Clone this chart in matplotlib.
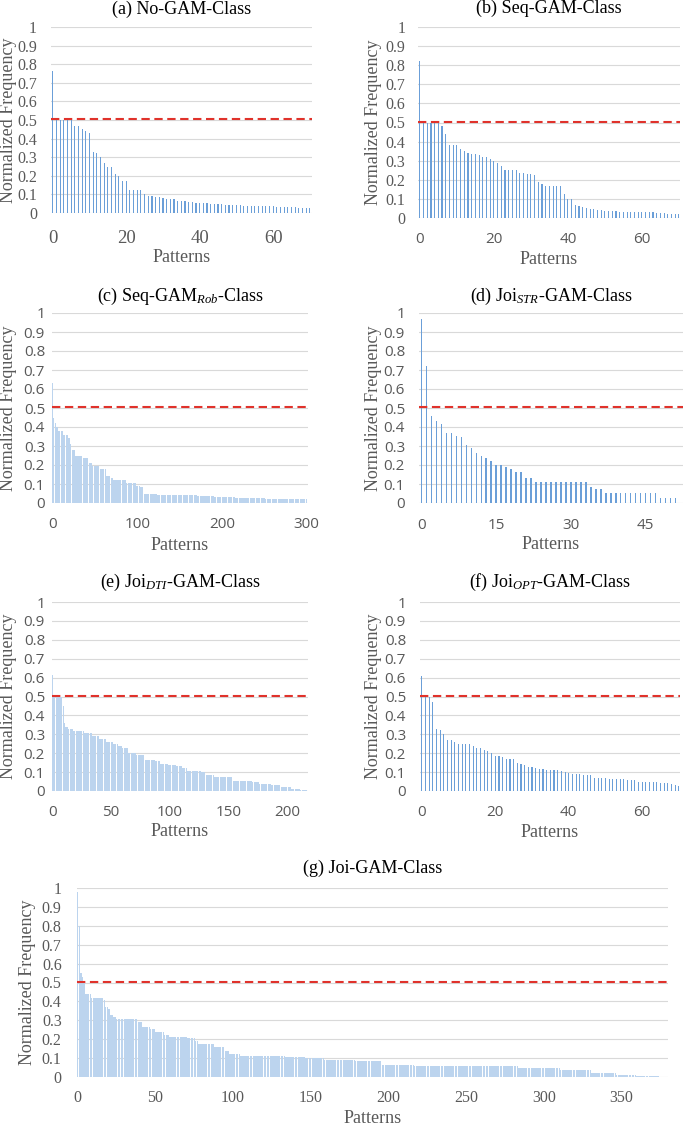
import numpy as np
import matplotlib.pyplot as plt

plt.rcParams['mathtext.fontset'] = 'custom'
plt.rcParams['mathtext.rm'] = 'Liberation Serif'
plt.rcParams['mathtext.it'] = 'Liberation Serif:italic'

# normalized frequency of each pattern
no_gam = [0.765, 0.50, 0.50, 0.50, 0.51, 0.50, 0.47, 0.47, 0.45, 0.44, 0.43,
          0.33, 0.32, 0.30, 0.27, 0.25, 0.25, 0.21, 0.20, 0.17, 0.17,
          0.125, 0.125, 0.125, 0.125, 0.10, 0.09, 0.09, 0.085, 0.085, 0.08,
          0.075, 0.075, 0.075, 0.065, 0.065, 0.065, 0.06, 0.06,
          0.055, 0.055, 0.055, 0.055, 0.05, 0.05, 0.05, 0.05,
          0.045, 0.045, 0.045, 0.045, 0.045, 0.04, 0.04, 0.04, 0.04, 0.04,
          0.035, 0.035, 0.035, 0.035, 0.03, 0.03, 0.03, 0.03, 0.03, 0.03,
          0.025, 0.025, 0.025, 0.025]
seq_gam = [0.82, 0.50, 0.50, 0.50, 0.50, 0.50, 0.48, 0.44, 0.38, 0.38, 0.38,
           0.36, 0.35, 0.34, 0.335, 0.335, 0.33, 0.32, 0.32, 0.31, 0.30,
           0.29, 0.27, 0.25, 0.25, 0.25, 0.25, 0.235, 0.235, 0.23, 0.23,
           0.225, 0.19, 0.18, 0.17, 0.165, 0.165, 0.165, 0.165, 0.125,
           0.10, 0.10, 0.07, 0.065, 0.055, 0.05, 0.045, 0.045, 0.04, 0.04,
           0.035, 0.035, 0.035, 0.035, 0.03, 0.03, 0.03, 0.03, 0.03, 0.03,
           0.03, 0.03, 0.03, 0.03, 0.025, 0.025, 0.025, 0.02, 0.02, 0.02, 0.02]
joi_str = [0.97, 0.72, 0.46, 0.43, 0.415, 0.37, 0.37, 0.355, 0.345, 0.305,
           0.29, 0.265, 0.245, 0.235, 0.22, 0.20, 0.20, 0.19, 0.18, 0.165,
           0.165, 0.13, 0.13, 0.11, 0.11, 0.11, 0.11, 0.11, 0.11, 0.11,
           0.11, 0.11, 0.11, 0.11, 0.085, 0.075, 0.075, 0.055, 0.055, 0.055,
           0.055, 0.055, 0.055, 0.055, 0.055, 0.055, 0.055, 0.055,
           0.025, 0.025, 0.025, 0.025]
joi_opt = [0.61, 0.50, 0.50, 0.47, 0.33, 0.325, 0.30, 0.27, 0.27, 0.26,
           0.25, 0.25, 0.25, 0.25, 0.24, 0.23, 0.23, 0.215, 0.21, 0.20,
           0.185, 0.185, 0.18, 0.17, 0.17, 0.17, 0.15, 0.145, 0.135, 0.125,
           0.125, 0.12, 0.115, 0.115, 0.11, 0.11, 0.11, 0.11, 0.105, 0.10,
           0.095, 0.09, 0.09, 0.09, 0.085, 0.085, 0.085, 0.07, 0.07, 0.07,
           0.07, 0.065, 0.065, 0.065, 0.065, 0.065, 0.06, 0.06, 0.06,
           0.05, 0.05, 0.05, 0.045, 0.045, 0.045, 0.04, 0.04, 0.04,
           0.035, 0.03, 0.025]

# long panels: plateau heights and how many patterns sit on each plateau
seq_rob_levels = [0.63, 0.45, 0.42, 0.40, 0.38, 0.36, 0.34, 0.31, 0.28, 0.25,
                  0.235, 0.21, 0.195, 0.18, 0.14, 0.13, 0.12, 0.105, 0.09,
                  0.085, 0.05, 0.04, 0.035, 0.03, 0.025, 0.02]
seq_rob_counts = [1, 2, 2, 2, 6, 6, 2, 3, 3, 8, 8, 4, 10, 7, 4, 4, 15, 12, 5,
                  3, 17, 47, 20, 25, 35, 50]
joi_dti_levels = [0.613, 0.50, 0.45, 0.36, 0.34, 0.33, 0.32, 0.305, 0.29,
                  0.275, 0.26, 0.25, 0.24, 0.225, 0.20, 0.19, 0.165, 0.16,
                  0.145, 0.14, 0.13, 0.12, 0.108, 0.10, 0.083, 0.072, 0.055,
                  0.045, 0.035, 0.03, 0.02, 0.012, 0.005]
joi_dti_counts = [1, 8, 1, 1, 3, 4, 9, 7, 6, 6, 6, 4, 4, 5, 7, 7, 9, 4, 7, 7,
                  5, 4, 12, 4, 7, 16, 17, 6, 10, 8, 9, 8, 6]
joi_levels = [0.98, 0.80, 0.55, 0.53, 0.50, 0.44, 0.42, 0.405, 0.37, 0.36,
              0.33, 0.32, 0.305, 0.29, 0.265, 0.255, 0.24, 0.22, 0.21, 0.205,
              0.19, 0.175, 0.16, 0.14, 0.12, 0.11, 0.105, 0.10, 0.09, 0.085,
              0.065, 0.056, 0.045, 0.035, 0.02, 0.012, 0.006, 0.002]
joi_counts = [1, 1, 1, 1, 1, 4, 8, 1, 2, 1, 2, 2, 14, 3, 5, 3, 6, 3, 12, 5,
              2, 10, 7, 3, 7, 29, 13, 12, 20, 17, 21, 67, 27, 20, 16, 13, 15, 11]

threshold = 0.505
y_ticks = [0, 0.1, 0.2, 0.3, 0.4, 0.5, 0.6, 0.7, 0.8, 0.9, 1]
y_tick_labels = ['0', '0.1', '0.2', '0.3', '0.4', '0.5', '0.6', '0.7', '0.8',
                 '0.9', '1']

SERIF = 'Liberation Serif'
SANS = 'Open Sans'
GREY = '#595959'
W, H = 685, 1126

fig = plt.figure(figsize=(W / 100, H / 100), dpi=100)


def panel(box, values, title, xticks, xlim, dense, yfont, xfont,
          ylab_px, xpad, ypad, tpad, xlab_gap):
    # box is (left, top, right, bottom) in pixels
    l, t, r, b = box
    ax = fig.add_axes([l / W, 1 - b / H, (r - l) / W, (b - t) / H])
    x = np.arange(len(values))
    if dense:
        ax.bar(x, values, width=0.85, color='#bcd4ee', linewidth=0)
    else:
        ax.bar(x, values, width=0.3, color='#6b9fd8', linewidth=0)
    ax.axhline(threshold, color='#e0322b', lw=1.5, ls=(0, (4, 2.2)))
    ax.set_xlim(*xlim)
    ax.set_ylim(0, 1)
    ax.set_yticks(y_ticks)
    ax.set_yticklabels(y_tick_labels)
    ax.set_xticks(xticks)
    ax.set_axisbelow(True)
    ax.grid(axis='y', color='#d9d9d9', lw=0.8)
    for s in ax.spines.values():
        s.set_visible(False)
    ax.tick_params(length=0)
    ax.tick_params(axis='y', pad=ypad, labelcolor=GREY)
    ax.tick_params(axis='x', pad=xpad, labelcolor=GREY)
    for lab in ax.get_yticklabels():
        lab.set_fontfamily(yfont[0])
        lab.set_fontsize(yfont[1])
    for lab in ax.get_xticklabels():
        lab.set_fontfamily(xfont[0])
        lab.set_fontsize(xfont[1])
    ax.set_title(title, fontfamily=SERIF, fontsize=13, pad=tpad)
    ax.set_ylabel('Normalized Frequency', fontfamily=SERIF, fontsize=13,
                  color=GREY, va='center')
    ax.yaxis.set_label_coords((ylab_px - l) / (r - l), 0.5)
    ax.set_xlabel('Patterns', fontfamily=SERIF, fontsize=13, color=GREY)
    ax.xaxis.set_label_coords(0.5, -xlab_gap / (b - t))
    return ax


panel((51, 27, 312, 213), no_gam, '(a) No-GAM-Class', [0, 20, 40, 60],
      (-0.5, 70.6), False, (SERIF, 11.5), (SERIF, 13.5),
      9, 12.5, 10, 9.5, 36)
panel((418, 27, 680, 218), seq_gam, '(b) Seq-GAM-Class', [0, 20, 40, 60],
      (-0.5, 70.3), False, (SERIF, 11.5), (SANS, 11),
      373, 10, 9, 10, 33)
panel((52, 313, 308, 503), np.repeat(seq_rob_levels, seq_rob_counts),
      r'(c) Seq-GAM$_{\mathit{Rob}}$-Class', [0, 100, 200, 300],
      (-0.5, 301.5), True, (SANS, 11), (SANS, 11),
      9, 10, 5, 9, 34)
panel((419, 313, 683, 503), joi_str, r'(d) Joi$_{\mathit{STR}}$-GAM-Class',
      [0, 15, 30, 45], (-0.5, 52.5), False, (SANS, 11), (SANS, 11),
      373, 10.5, 10, 8.5, 33)
panel((52, 602, 308, 791), np.repeat(joi_dti_levels, joi_dti_counts),
      r'(e) Joi$_{\mathit{DTI}}$-GAM-Class', [0, 50, 100, 150, 200],
      (-0.5, 218), True, (SANS, 11), (SANS, 11),
      9, 10, 5, 11, 32)
panel((420, 602, 680, 791), joi_opt, r'(f) Joi$_{\mathit{OPT}}$-GAM-Class',
      [0, 20, 40, 60], (-0.5, 70.3), False, (SANS, 11), (SANS, 11),
      373, 10, 10, 11, 33)
panel((77, 888, 668, 1077), np.repeat(joi_levels, joi_counts),
      '(g) Joi-GAM-Class', [0, 50, 100, 150, 200, 250, 300, 350],
      (-0.5, 380), True, (SERIF, 11.5), (SERIF, 11.5),
      28, 9, 11, 11, 33)

fig.savefig('out.png', dpi=100)
